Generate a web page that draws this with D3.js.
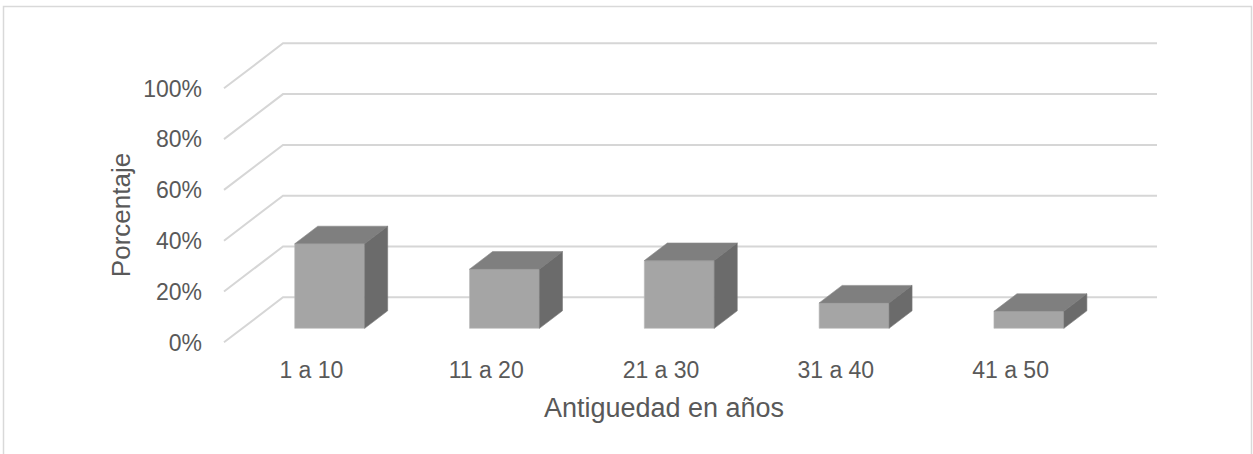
<!DOCTYPE html>
<html>
<head>
<meta charset="utf-8">
<script src="https://cdn.jsdelivr.net/npm/d3@7"></script>
<style>
  html, body { margin: 0; padding: 0; background: #fff; }
  svg { display: block; font-family: "Liberation Sans", Arial, sans-serif; }
</style>
</head>
<body>
<svg id="chart" width="1253" height="454"></svg>
<script>
// Distribution of staff by years of service (share of total)
const categories = ["1 a 10", "11 a 20", "21 a 30", "31 a 40", "41 a 50"];
const values = [0.333, 0.233, 0.267, 0.100, 0.067];
const yTicks = [0, 0.2, 0.4, 0.6, 0.8, 1.0];
const xTitle = "Antiguedad en años";
const yTitle = "Porcentaje";

const svg = d3.select("#chart");

// Outer chart frame
svg.append("rect")
  .attr("x", 3.5).attr("y", 6.5)
  .attr("width", 1248).attr("height", 470)
  .attr("fill", "#fff").attr("stroke", "#d9d9d9").attr("stroke-width", 1.5);

// Oblique 3D frame: front-left floor corner, wall width and depth vector
const frontX = 224, floorY = 342.3;
const wallW = 874;
const depthDX = 59, depthDY = -45;   // full depth offset (front -> back wall)
const barFront = 0.31, barBack = 0.70; // bar depth range as a fraction of full depth

const x = d3.scaleBand().domain(categories).range([0, wallW])
  .paddingInner(0.6).paddingOuter(0.3);
const xLabel = d3.scaleBand().domain(categories).range([0, wallW]);
const y = d3.scaleLinear().domain([0, 1]).range([0, -254]);

// project (u along wall, value, depth fraction) to screen
function P(u, v, d) {
  return [frontX + u + depthDX * d, floorY + y(v) + depthDY * d];
}

// Gridlines: left side wall diagonal + back wall horizontal
const grid = svg.append("g");
yTicks.forEach(t => {
  const a = P(0, t, 0), b = P(0, t, 1), c = P(wallW, t, 1);
  grid.append("path")
    .attr("d", d3.line()([a, b, c]))
    .attr("fill", "none")
    .attr("stroke", "#d6d6d6")
    .attr("stroke-width", 2);
});

// Y tick labels at the front ends of the gridlines
svg.append("g").selectAll("text").data(yTicks).join("text")
  .attr("x", 202)
  .attr("y", d => P(0, d, 0)[1])
  .attr("dy", "0.36em")
  .attr("text-anchor", "end")
  .attr("font-size", 23)
  .attr("fill", "#595959")
  .text(d => d3.format(".0%")(d));

// Bars as oblique boxes: front, top, right side
const bars = svg.append("g");
const poly = pts => d3.line()(pts) + "Z";
categories.forEach((c, i) => {
  const v = values[i];
  const u0 = x(c), u1 = x(c) + x.bandwidth();
  const g = bars.append("g");
  // front face
  g.append("path")
    .attr("d", poly([P(u0, 0, barFront), P(u1, 0, barFront), P(u1, v, barFront), P(u0, v, barFront)]))
    .attr("fill", "#a5a5a5").attr("stroke", "#b9b9b9").attr("stroke-width", 0.6);
  // top face
  g.append("path")
    .attr("d", poly([P(u0, v, barFront), P(u1, v, barFront), P(u1, v, barBack), P(u0, v, barBack)]))
    .attr("fill", "#7f7f7f").attr("stroke", "#8c8c8c").attr("stroke-width", 0.6);
  // right side face
  g.append("path")
    .attr("d", poly([P(u1, 0, barFront), P(u1, 0, barBack), P(u1, v, barBack), P(u1, v, barFront)]))
    .attr("fill", "#6b6b6b").attr("stroke", "#777").attr("stroke-width", 0.6);
});

// Category labels centred on the front edge bands
svg.append("g").selectAll("text").data(categories).join("text")
  .attr("x", d => frontX + xLabel(d) + xLabel.bandwidth() / 2)
  .attr("y", 370)
  .attr("dy", "0.36em")
  .attr("text-anchor", "middle")
  .attr("font-size", 23)
  .attr("fill", "#595959")
  .text(d => d);

// Axis titles
svg.append("text")
  .attr("x", 664).attr("y", 417)
  .attr("text-anchor", "middle")
  .attr("font-size", 27)
  .attr("fill", "#595959")
  .text(xTitle);

svg.append("text")
  .attr("transform", "translate(130,215) rotate(-90)")
  .attr("text-anchor", "middle")
  .attr("font-size", 26)
  .attr("fill", "#595959")
  .text(yTitle);
</script>
</body>
</html>
